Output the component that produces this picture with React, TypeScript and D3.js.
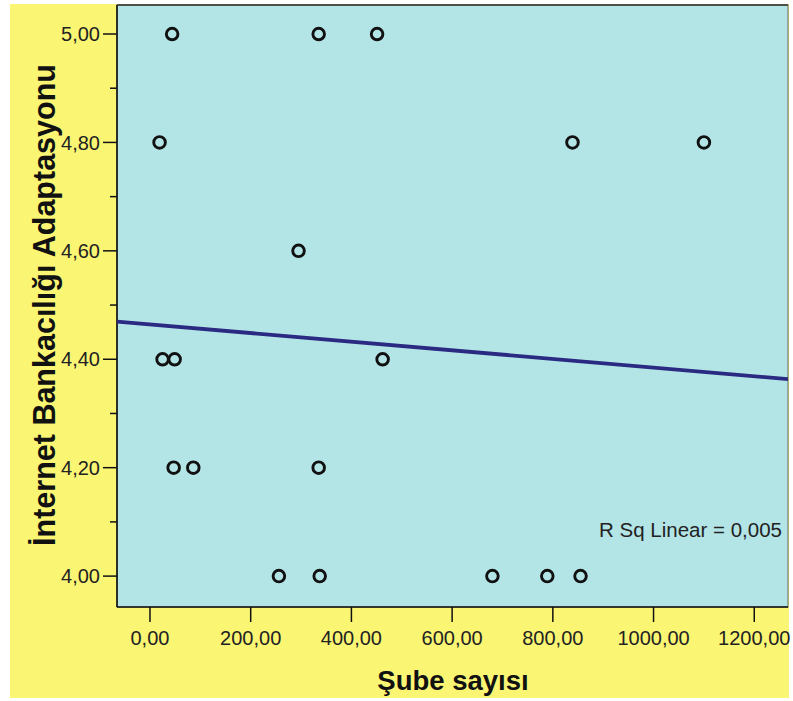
import React from "react";
import * as d3 from "d3";

// Şube sayısı (x) and İnternet Bankacılığı Adaptasyonu (y)
const subeSayisi = [44, 335, 451, 19, 839, 1100, 295, 25, 49, 462, 47, 86, 335, 256, 337, 680, 789, 855];
const adaptasyon = [5.0, 5.0, 5.0, 4.8, 4.8, 4.8, 4.6, 4.4, 4.4, 4.4, 4.2, 4.2, 4.2, 4.0, 4.0, 4.0, 4.0, 4.0];
const xTicks = [0, 200, 400, 600, 800, 1000, 1200];
const yTicks = [4.0, 4.2, 4.4, 4.6, 4.8, 5.0];
const yMinorTicks = [4.1, 4.3, 4.5, 4.7, 4.9];

const W = 793;
const H = 701;
const plot = { left: 117, top: 5, right: 788, bottom: 607 };

const fmt = (v: number, d = 2) => v.toFixed(d).replace(".", ",");

export default function App() {
  const x = d3.scaleLinear().domain([-65.5, 1267]).range([plot.left, plot.right]);
  const y = d3.scaleLinear().domain([3.943, 5.0535]).range([plot.bottom, plot.top]);

  // linear regression
  const n = subeSayisi.length;
  const mx = d3.mean(subeSayisi)!;
  const my = d3.mean(adaptasyon)!;
  let sxy = 0, sxx = 0, syy = 0;
  for (let i = 0; i < n; i++) {
    sxy += (subeSayisi[i] - mx) * (adaptasyon[i] - my);
    sxx += (subeSayisi[i] - mx) ** 2;
    syy += (adaptasyon[i] - my) ** 2;
  }
  const slope = sxy / sxx;
  const intercept = my - slope * mx;
  const r2 = (sxy * sxy) / (sxx * syy);
  const [d0, d1] = x.domain();
  const fitLine = d3.line<number>()
    .x((d) => x(d))
    .y((d) => y(intercept + slope * d))([d0, d1]);

  const tickColor = "#222";
  const fontTick = "'Liberation Sans', Arial, sans-serif";

  return (
    <svg width={W} height={H} style={{ position: "absolute", left: 0, top: 0 }}>
      <rect x={0} y={0} width={W} height={H} fill="#ffffff" />
      <rect x={10} y={4} width={779} height={694} fill="#faf674" />
      <defs>
        <clipPath id="pc">
          <rect x={plot.left} y={plot.top} width={plot.right - plot.left} height={plot.bottom - plot.top} />
        </clipPath>
      </defs>
      <rect
        x={plot.left}
        y={plot.top}
        width={plot.right - plot.left}
        height={plot.bottom - plot.top}
        fill="#b3e5e7"
        stroke="#666"
        strokeWidth={1}
      />
      {/* axes lines */}
      <line x1={plot.left} x2={plot.left} y1={plot.top} y2={plot.bottom} stroke="#111" strokeWidth={1.6} />
      <line x1={plot.left} x2={plot.right} y1={plot.bottom} y2={plot.bottom} stroke="#111" strokeWidth={1.6} />
      <line x1={plot.left} x2={plot.right} y1={plot.top} y2={plot.top} stroke="#333" strokeWidth={1.4} />

      {/* y ticks */}
      {yTicks.map((t) => (
        <g key={"y" + t}>
          <line x1={103} x2={plot.left} y1={y(t)} y2={y(t)} stroke="#111" strokeWidth={1.5} />
          <text x={100} y={y(t)} dy="0.36em" textAnchor="end" fontSize={20} fontFamily={fontTick} fill={tickColor}>
            {fmt(t)}
          </text>
        </g>
      ))}
      {yMinorTicks.map((t) => (
        <line key={"ym" + t} x1={110} x2={plot.left} y1={y(t)} y2={y(t)} stroke="#111" strokeWidth={1.5} />
      ))}

      {/* x ticks */}
      {xTicks.map((t) => (
        <g key={"x" + t}>
          <line x1={x(t)} x2={x(t)} y1={plot.bottom} y2={622} stroke="#111" strokeWidth={1.5} />
          <text x={x(t)} y={645} textAnchor="middle" fontSize={20} fontFamily={fontTick} fill={tickColor}>
            {fmt(t)}
          </text>
        </g>
      ))}

      {/* fit line */}
      <g clipPath="url(#pc)">
        <path d={fitLine || ""} fill="none" stroke="#2b2a82" strokeWidth={3.8} />
      </g>

      {/* points */}
      {subeSayisi.map((v, i) => (
        <circle
          key={"p" + i}
          cx={x(v)}
          cy={y(adaptasyon[i])}
          r={5.8}
          fill="none"
          stroke="#111"
          strokeWidth={2.9}
        />
      ))}

      <text x={782} y={537} textAnchor="end" fontSize={20.5} fontFamily={fontTick} fill="#222">
        {"R Sq Linear = " + fmt(r2, 3)}
      </text>

      {/* axis titles */}
      <text
        x={453}
        y={690}
        textAnchor="middle"
        fontSize={27.5}
        fontWeight="bold"
        fontFamily={fontTick}
        fill="#111"
      >
        Şube sayısı
      </text>
      <text
        transform={`translate(55,305) rotate(-90)`}
        textAnchor="middle"
        fontSize={30.5}
        fontWeight="bold"
        fontFamily={fontTick}
        fill="#111"
      >
        İnternet Bankacılığı Adaptasyonu
      </text>
    </svg>
  );
}
